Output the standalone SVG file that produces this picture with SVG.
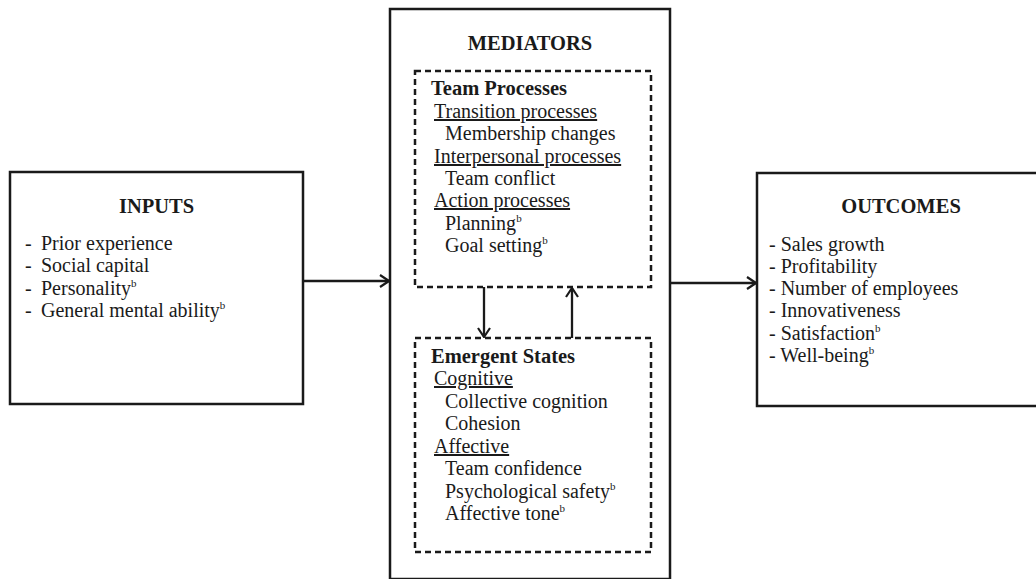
<svg xmlns="http://www.w3.org/2000/svg" width="1036" height="579" viewBox="0 0 1036 579">
<defs>
<marker id="arr" viewBox="0 0 12 14" refX="11" refY="7" markerWidth="12" markerHeight="14" markerUnits="userSpaceOnUse" orient="auto">
<path d="M2,1 L11,7 L2,13" fill="none" stroke="#1a1a1a" stroke-width="2.2"/>
</marker>
<style>
text{font-family:"Liberation Serif","Times New Roman",serif;fill:#1a1a1a;font-size:20px}
.h{font-weight:bold;font-size:20.5px}
.u{text-decoration:underline}
.sup{font-size:11px}
.box{fill:#fff;stroke:#1a1a1a;stroke-width:2.5}
.dash{fill:none;stroke:#1a1a1a;stroke-width:2.5;stroke-dasharray:6 4}
.con{fill:none;stroke:#1a1a1a;stroke-width:2.3}
</style>
</defs>
<rect width="1036" height="579" fill="#fff"/>

<g id="inputs">
<rect class="box" x="10" y="172" width="293" height="232"/>
<text class="h" x="156.5" y="213" text-anchor="middle">INPUTS</text>
<text x="25" y="250">-</text><text x="41" y="250">Prior experience</text>
<text x="25" y="272">-</text><text x="41" y="272">Social capital</text>
<text x="25" y="295">-</text><text x="41" y="295">Personality<tspan class="sup" dy="-8">b</tspan></text>
<text x="25" y="317">-</text><text x="41" y="317">General mental ability<tspan class="sup" dy="-8">b</tspan></text>
</g>

<g id="mediators">
<rect class="box" x="390" y="9" width="280" height="570"/>
<text class="h" x="530" y="50" text-anchor="middle">MEDIATORS</text>
</g>

<g id="team-processes">
<rect class="dash" x="415" y="71" width="236" height="216"/>
<text class="h" x="431" y="95">Team Processes</text>
<text class="u" x="434" y="118">Transition processes</text>
<text x="445" y="140">Membership changes</text>
<text class="u" x="434" y="163">Interpersonal processes</text>
<text x="445" y="185">Team conflict</text>
<text class="u" x="434" y="207">Action processes</text>
<text x="445" y="230">Planning<tspan class="sup" dy="-8">b</tspan></text>
<text x="445" y="252">Goal setting<tspan class="sup" dy="-8">b</tspan></text>
</g>

<g id="emergent-states">
<rect class="dash" x="415" y="338" width="236" height="214"/>
<text class="h" x="431" y="363">Emergent States</text>
<text class="u" x="434" y="385">Cognitive</text>
<text x="445" y="408">Collective cognition</text>
<text x="445" y="430">Cohesion</text>
<text class="u" x="434" y="453">Affective</text>
<text x="445" y="475">Team confidence</text>
<text x="445" y="498">Psychological safety<tspan class="sup" dy="-8">b</tspan></text>
<text x="445" y="520">Affective tone<tspan class="sup" dy="-8">b</tspan></text>
</g>

<g id="outcomes">
<rect class="box" x="757" y="173" width="290" height="233"/>
<text class="h" x="901" y="213" text-anchor="middle">OUTCOMES</text>
<text x="769" y="251">- Sales growth</text>
<text x="769" y="273">- Profitability</text>
<text x="769" y="295">- Number of employees</text>
<text x="769" y="317">- Innovativeness</text>
<text x="769" y="340">- Satisfaction<tspan class="sup" dy="-8">b</tspan></text>
<text x="769" y="362">- Well-being<tspan class="sup" dy="-8">b</tspan></text>
</g>

<g id="connectors">
<line class="con" x1="303" y1="281" x2="389" y2="281" marker-end="url(#arr)"/>
<line class="con" x1="670" y1="283" x2="756" y2="283" marker-end="url(#arr)"/>
<line class="con" x1="484" y1="287" x2="484" y2="337" marker-end="url(#arr)"/>
<line class="con" x1="572" y1="338" x2="572" y2="288" marker-end="url(#arr)"/>
</g>
</svg>
